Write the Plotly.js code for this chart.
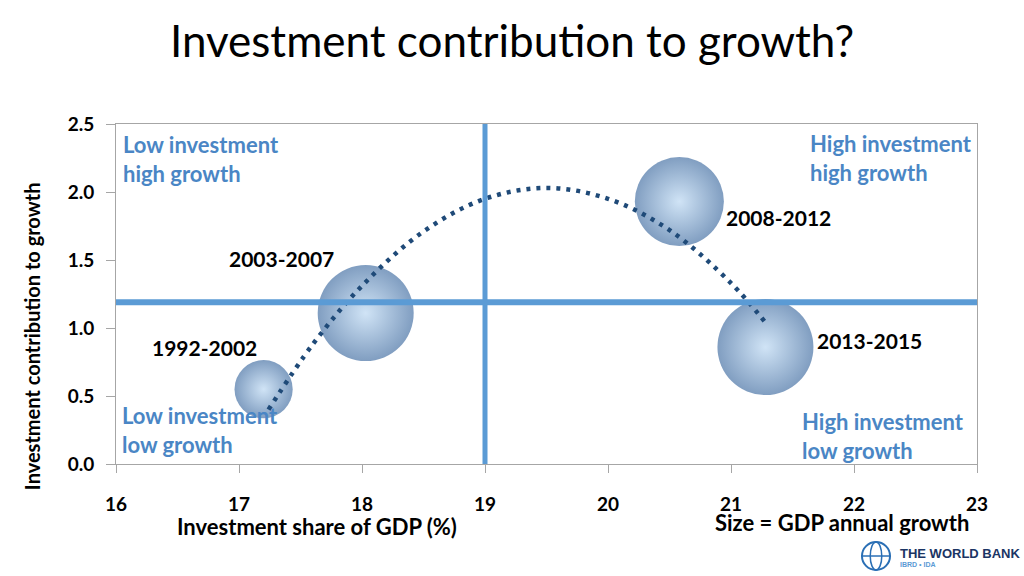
<!DOCTYPE html>
<html>
<head>
<meta charset="utf-8">
<script src="https://cdn.plot.ly/plotly-3.0.1.min.js"></script>
<style>html,body{margin:0;padding:0;background:#fff;}#chart{width:1024px;height:576px;}</style>
</head>
<body>
<div id="chart"></div>
<script>
// ---- data ----
const periods = ['1992-2002', '2003-2007', '2008-2012', '2013-2015'];
const investShare = [17.2, 18.03, 20.58, 21.28];      // x: Investment share of GDP (%)
const investContrib = [0.55, 1.11, 1.93, 0.86];       // y: Investment contribution to growth
const gdpGrowth = [2.9, 7.9, 6.8, 7.9];               // bubble size: GDP annual growth
// dotted trend line
const trendX = [17.24, 17.6, 18.0, 18.5, 19.0, 19.5, 20.0, 20.5, 21.0, 21.28];
const trendY = [0.40, 0.88, 1.31, 1.71, 1.95, 2.03, 1.95, 1.72, 1.33, 1.04];
// quadrant dividers
const investThreshold = 19;
const contribThreshold = 1.19;
const xTicks = [16, 17, 18, 19, 20, 21, 22, 23];
const yTicks = [0, 0.5, 1.0, 1.5, 2.0, 2.5];
const quadrantLabels = ['Low investment<br>high growth', 'Low investment<br>low growth',
                        'High investment<br>high growth', 'High investment<br>low growth'];

// ---- presentation ----
const FONT = 'Lato, "Open Sans", sans-serif';
const maxDiameter = 96;
const sizeref = 2 * Math.max(...gdpGrowth) / (maxDiameter * maxDiameter);
const labelShift = [[-59, 42], [-84, 55], [99, -16], [104, 7]];
const quadPos = [
  {x: 16.04, y: 2.46},
  {x: 16.03, y: 0.47},
  {x: 21.63, y: 2.47},
  {x: 21.56, y: 0.425}
];
const qColor = '#4a86c5';
const lineBlue = '#5b9bd5';

const traces = [
  {
    type: 'scatter', mode: 'markers',
    x: investShare, y: investContrib, text: periods,
    marker: {
      size: gdpGrowth, sizemode: 'area', sizeref: sizeref,
      color: '#4a74a6',
      gradient: {type: 'radial', color: '#bcd8f2'},
      line: {width: 0}
    },
    hoverinfo: 'text', showlegend: false
  },
  {
    type: 'scatter', mode: 'lines',
    x: trendX, y: trendY,
    line: {shape: 'spline', color: '#1f4a78', width: 4.5, dash: '4px,6px'},
    hoverinfo: 'skip', showlegend: false
  }
];

const annotations = [];
periods.forEach((p, i) => {
  annotations.push({
    x: investShare[i], y: investContrib[i], xref: 'x', yref: 'y',
    xanchor: 'center', yanchor: 'middle',
    text: p, showarrow: false, xshift: labelShift[i][0], yshift: labelShift[i][1],
    font: {family: FONT, size: 21, color: '#000', weight: 'bold'}
  });
});
quadrantLabels.forEach((t, i) => {
  annotations.push({
    x: quadPos[i].x, y: quadPos[i].y, xref: 'x', yref: 'y', xanchor: 'left', yanchor: 'top',
    align: 'left', text: t, showarrow: false,
    font: {family: FONT, size: 22, color: qColor, weight: 'bold'}
  });
});
annotations.push(
  {x: 0.233, y: -0.185, xref: 'paper', yref: 'paper', xanchor: 'center', yanchor: 'middle',
   text: 'Investment share of GDP (%)', showarrow: false,
   font: {family: FONT, size: 22, color: '#000', weight: 'bold'}},
  {x: 0.843, y: -0.171, xref: 'paper', yref: 'paper', xanchor: 'center', yanchor: 'middle',
   text: 'Size = GDP annual growth', showarrow: false,
   font: {family: FONT, size: 22, color: '#000', weight: 'bold'}},
  {x: -0.0976, y: 0.376, xref: 'paper', yref: 'paper', xanchor: 'center', yanchor: 'middle',
   text: 'Investment contribution to growth', showarrow: false,
   textangle: -90, font: {family: FONT, size: 20, color: '#000', weight: 'bold'}},
  {x: 0.9088, y: -0.262, xref: 'paper', yref: 'paper', xanchor: 'left', yanchor: 'middle',
   text: 'THE WORLD BANK', showarrow: false,
   font: {family: '"Liberation Sans", Arial, sans-serif', size: 13, color: '#1b3564', weight: 'bold'}},
  {x: 0.9088, y: -0.297, xref: 'paper', yref: 'paper', xanchor: 'left', yanchor: 'middle',
   text: 'IBRD • IDA', showarrow: false,
   font: {family: '"Liberation Sans", Arial, sans-serif', size: 7, color: '#5b9bd5', weight: 'bold'}}
);

const shapes = [
  {type: 'line', xref: 'x', yref: 'y', x0: investThreshold, x1: investThreshold, y0: 0, y1: 2.5,
   line: {color: lineBlue, width: 5}},
  {type: 'line', xref: 'x', yref: 'y', x0: 16, x1: 23, y0: contribThreshold, y1: contribThreshold,
   line: {color: lineBlue, width: 6}},
  // World Bank globe glyph
  {type: 'circle', xref: 'paper', yref: 'paper', x0: 0.8664, x1: 0.899, y0: -0.3118, y1: -0.2294,
   line: {color: '#2a6fb5', width: 2}},
  {type: 'circle', xref: 'paper', yref: 'paper', x0: 0.876, x1: 0.8894, y0: -0.3118, y1: -0.2294,
   line: {color: '#2a6fb5', width: 1.5}},
  {type: 'line', xref: 'paper', yref: 'paper', x0: 0.8664, x1: 0.899, y0: -0.2706, y1: -0.2706,
   line: {color: '#2a6fb5', width: 1.5}}
];

const axisCommon = {
  showgrid: false, zeroline: false, showline: true, linecolor: '#a6a6a6', linewidth: 1, mirror: true,
  ticks: 'outside', tickcolor: '#a6a6a6', tickwidth: 1,
  tickfont: {family: FONT, size: 19, color: '#000', weight: 'bold'}
};

const layout = {
  width: 1024, height: 576,
  margin: {l: 116, r: 47, t: 124, b: 112},
  paper_bgcolor: '#fff', plot_bgcolor: '#fff',
  title: {text: 'Investment contribution to growth?', x: 0.5, xanchor: 'center', y: 0.927, yanchor: 'middle',
          font: {family: FONT, size: 44, color: '#000'}},
  xaxis: Object.assign({}, axisCommon, {range: [16, 23], tickvals: xTicks, ticktext: xTicks.map(String),
          ticklen: 8, ticklabelstandoff: 15}),
  yaxis: Object.assign({}, axisCommon, {range: [0, 2.5], tickvals: yTicks, ticktext: yTicks.map(v => v.toFixed(1)),
          ticklen: 9, ticklabelstandoff: 8}),
  annotations: annotations,
  shapes: shapes,
  showlegend: false,
  hovermode: 'closest'
};

Plotly.newPlot('chart', traces, layout, {displayModeBar: false, staticPlot: true});
</script>
</body>
</html>
